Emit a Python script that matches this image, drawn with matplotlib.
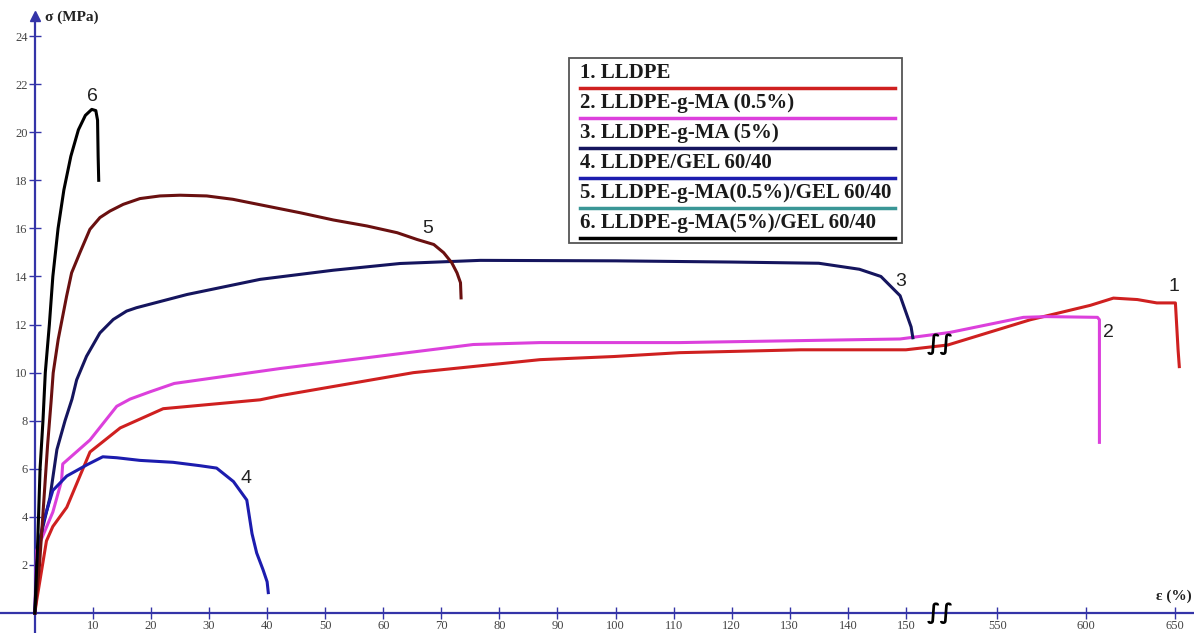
import numpy as np
import matplotlib.pyplot as plt

# strain eps (%) and stress sig (MPa)
eps1 = [0, 0.3, 2, 3.1, 5.5, 9.5, 14.7, 22.1, 38.8, 42.2, 65.2, 87, 99.7, 111, 131.9, 150,
        522, 568.6, 585.6, 602.5, 615.5, 629, 640, 650.5, 652, 652.7]
sig1 = [0, 0.5, 3, 3.6, 4.4, 6.7, 7.7, 8.5, 8.87, 9.04, 10.0, 10.54, 10.67, 10.83, 10.95, 10.95,
        11.15, 12.2, 12.5, 12.8, 13.1, 13.04, 12.9, 12.9, 10.96, 10.25]

eps2 = [0, 0.3, 3.1, 4.6, 4.8, 9.5, 14.1, 16.4, 19.8, 24, 42.2, 75.5, 87, 111, 149,
        523, 564.7, 578, 606.5, 607.6, 607.6]
sig2 = [0, 2.6, 4.2, 5.5, 6.2, 7.2, 8.6, 8.9, 9.2, 9.55, 10.17, 11.17, 11.25, 11.25, 11.4,
        11.67, 12.3, 12.33, 12.3, 12.2, 7.1]

eps3 = [0, 0.5, 1.0, 2.6, 3.8, 5.2, 6.4, 7.2, 8.9, 11.2, 13.5, 15.8, 17.5, 26.2, 38.8, 51.4,
        62.9, 76.7, 100, 120, 135, 142, 145.7, 149, 150.9, 151.2]
sig3 = [0, 2, 3.2, 4.8, 6.8, 8, 8.9, 9.7, 10.68, 11.65, 12.21, 12.56, 12.7, 13.25, 13.88, 14.26,
        14.54, 14.67, 14.65, 14.6, 14.55, 14.3, 14.0, 13.2, 11.9, 11.45]

eps4 = [0, 0.3, 1.4, 3.1, 5.5, 9, 11.7, 14.1, 18.1, 23.8, 28.4, 31.3, 34.2, 36.5, 37.4,
        38.2, 39.3, 40, 40.2]
sig4 = [0, 2, 3.75, 5.1, 5.7, 6.17, 6.5, 6.46, 6.35, 6.27, 6.13, 6.03, 5.47, 4.7, 3.3,
        2.5, 1.8, 1.3, 0.85]

eps5 = [0, 0.8, 1.5, 2.2, 2.8, 3.16, 4.02, 5.47, 6.33, 7.76, 9.48, 11.21, 12.93, 15.22, 18.1,
        21.55, 25.0, 29.6, 34.1, 39.9, 45.7, 51.4, 57.2, 62.4, 65.8, 68.7, 70.4, 71.8, 72.7,
        73.3, 73.4]
sig5 = [0, 2, 4.5, 7, 8.8, 9.99, 11.38, 13.18, 14.15, 14.99, 15.96, 16.45, 16.72, 17.0, 17.24,
        17.35, 17.38, 17.35, 17.21, 16.93, 16.65, 16.35, 16.1, 15.82, 15.54, 15.33, 14.99, 14.57,
        14.15, 13.74, 13.11]

eps6 = [0, 0.5, 0.9, 1.4, 1.8, 2.5, 3.1, 4.0, 5.0, 6.2, 7.5, 8.7, 9.8, 10.5, 10.8, 10.9, 11.0]
sig6 = [0, 3, 6, 8, 10, 12, 14, 16, 17.6, 19, 20.1, 20.7, 20.95, 20.9, 20.5, 19, 18.0]

names = ["1. LLDPE", "2. LLDPE-g-MA (0.5%)", "3. LLDPE-g-MA (5%)", "4. LLDPE/GEL 60/40",
         "5. LLDPE-g-MA(0.5%)/GEL 60/40", "6. LLDPE-g-MA(5%)/GEL 60/40"]
colors = ["#cf2020", "#dc40dc", "#15155e", "#1c1cae", "#6a1010", "black"]
legend_colors = ["#cf2020", "#dc40dc", "#15155e", "#1c1cae", "#3a9696", "black"]
curves = [(eps1, sig1), (eps2, sig2), (eps3, sig3), (eps4, sig4), (eps5, sig5), (eps6, sig6)]

# curve number labels (x, y)
tags = ["1", "2", "3", "4", "5", "6"]
tag_x = [649.4, 612.7, 149.1, 36.4, 67.6, 10.0]
tag_y = [13.6, 11.67, 13.8, 5.6, 16.0, 21.5]

xticks = [10, 20, 30, 40, 50, 60, 70, 80, 90, 100, 110, 120, 130, 140, 150, 550, 600, 650]
yticks = [2, 4, 6, 8, 10, 12, 14, 16, 18, 20, 22, 24]

# broken x axis: 156..518 squeezed out, right part compressed
b_lo, b_hi, k = 156.0, 518.0, 0.305

def fwd(x):
    x = np.asarray(x, dtype=float)
    return np.where(x <= b_lo, x, np.where(x >= b_hi, b_lo + (x - b_hi) * k, b_lo))

def inv(y):
    y = np.asarray(y, dtype=float)
    return np.where(y <= b_lo, y, b_hi + (y - b_lo) / k)

axcol = "#3434a8"
serif = "Liberation Serif"

fig = plt.figure(figsize=(11.94, 6.33), dpi=100)
ax = fig.add_axes([0, 0, 1, 1])
ax.set_xscale("function", functions=(fwd, inv))
ax.set_xlim(-6, 661)
ax.set_ylim(-0.83, 25.5)

for (x, y), c in zip(curves, colors):
    ax.plot(x, y, color=c, lw=2.2, solid_joinstyle="round", zorder=3)

for t, x, y in zip(tags, tag_x, tag_y):
    ax.text(x, y, t, fontsize=14, family="Liberation Sans", color="#222222",
            ha="center", va="center")

# axes
for s in ["top", "right"]:
    ax.spines[s].set_visible(False)
ax.spines["left"].set_position(("data", 0))
ax.spines["bottom"].set_position(("data", 0))
ax.spines["left"].set_color(axcol)
ax.spines["bottom"].set_color(axcol)
ax.spines["left"].set_linewidth(1.6)
ax.spines["bottom"].set_linewidth(1.6)
ax.spines["left"].set_bounds(-0.83, 24.85)
ax.plot([0], [24.85], marker="^", ms=7, color=axcol, clip_on=False, zorder=5)

ax.set_xticks(xticks)
ax.set_xticklabels([str(v) for v in xticks])
ax.set_yticks(yticks)
ax.set_yticklabels([str(v) for v in yticks])
ax.tick_params(direction="inout", length=8, width=1, color=axcol,
               labelsize=9, labelcolor="#444444", pad=1)
for lab in ax.get_xticklabels() + ax.get_yticklabels():
    lab.set_family(serif)

ax.text(1.7, 24.8, "σ (MPa)", fontsize=11, fontweight="bold", family=serif,
        color="#222222", va="center", ha="left")
ax.text(0.998, 0.0575, "ε (%)", fontsize=11, fontweight="bold", family=serif,
        color="#222222", va="center", ha="right", transform=ax.transAxes)

# break marks
for yb in [0, 11.2]:
    ax.text(b_lo, yb, "∫∫", fontsize=16, fontweight="bold", family="DejaVu Sans",
            ha="center", va="center", color="black", zorder=6)

# legend box
box = plt.Rectangle((0.4765, 0.616), 0.2789, 0.2924, transform=ax.transAxes,
                    fill=False, ec="#555555", lw=1.3, zorder=4)
ax.add_patch(box)
for i, (n, c) in enumerate(zip(names, legend_colors)):
    yl = 1 - (88 + 30 * i) / 633
    ax.plot([0.4858, 0.7496], [yl, yl], color=c, lw=2.5, transform=ax.transAxes, zorder=4)
    ax.text(0.4858, yl + 0.008, n, fontsize=15, fontweight="bold", family=serif,
            color="#1a1a1a", transform=ax.transAxes, va="bottom", ha="left", zorder=4)

plt.savefig("out.png", dpi=100)
plt.close()
